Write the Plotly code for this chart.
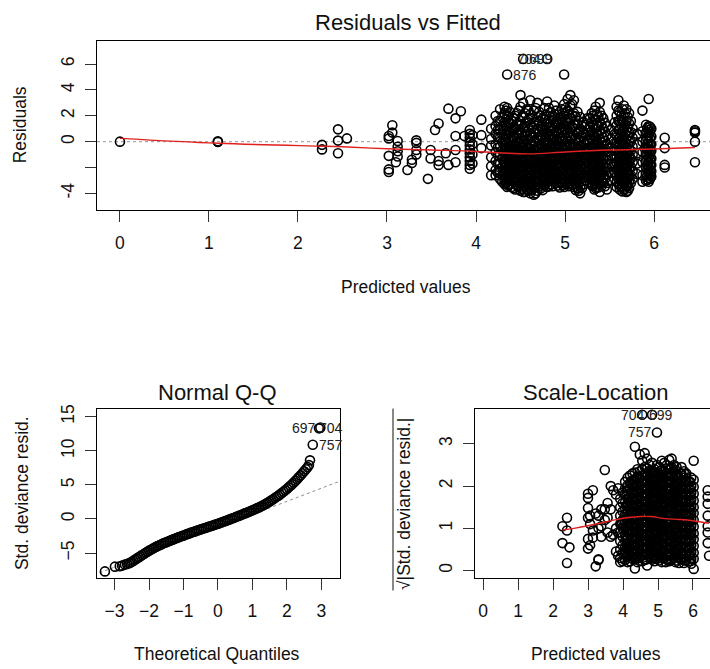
import plotly.graph_objects as go

# ---------------- data: Residuals vs Fitted ----------------
rvf_fitted_cols = [0.00, 1.10, 2.27, 2.45, 2.55, 3.02, 3.06, 3.12, 3.10, 3.23, 3.28, 3.33,
                   3.46, 3.49, 3.54, 3.58, 3.66, 3.69, 3.77, 3.83, 3.87, 3.93, 3.96, 4.06,
                   4.17, 4.22, 4.27, 4.32, 4.35, 4.38, 4.42, 4.46, 4.50, 4.53, 4.57, 4.61,
                   4.65, 4.69, 4.73, 4.77, 4.80, 4.84, 4.88, 4.92, 4.96, 4.99, 5.03, 5.06,
                   5.10, 5.14, 5.17, 5.21, 5.25, 5.30, 5.33, 5.36, 5.39, 5.43, 5.47, 5.52,
                   5.56, 5.60, 5.63, 5.66, 5.69, 5.72, 5.76, 5.81, 5.87, 5.91, 5.94, 5.97,
                   6.12, 6.46]
rvf_resid_cols = [
    [0.0],
    [0.02, -0.03],
    [-0.25, -0.6],
    [0.95, 0.08, -0.9],
    [0.25],
    [0.43, 0.25, -1.1, -2.15, -2.35],
    [1.27, 0.7],
    [0.05, -0.4, -0.75, -1.15],
    [-1.6],
    [-2.2],
    [-1.65, -1.4],
    [0.1, -0.1, -0.65, -1.0],
    [-2.88],
    [-0.65, -1.3],
    [0.9],
    [1.4, -1.5, -1.8],
    [-0.9],
    [2.55, -1.8],
    [1.8, 0.43, -0.65, -1.6],
    [2.35],
    [0.43],
    [0.9, 0.6, 0.3, 0.0, -0.3, -0.6, -0.9, -1.2, -1.5, -1.8, -2.1],
    [0.5, -0.2, -1.0, -1.7],
    [1.7, 0.5, -0.5],
    [1.0, 0.2, -0.3, -1.2, -1.9, -2.6],
    [2.0, 1.2, 0.6, -0.2, -0.8, -1.5, -2.2, -2.6],
    [2.5, 1.6, 0.9, 0.3, -0.4, -1.0, -1.7, -2.3, -2.9],
    [2.7, 2.2, 1.5, 0.8, 0.2, -0.3, -0.7, -1.1, -1.6, -2.0, -2.5, -3.0, -3.3],
    [5.19, 2.6, 1.9, 1.1, 0.5, -0.1, -0.5, -0.9, -1.3, -1.8, -2.2, -2.7, -3.1, -3.5],
    [2.3, 1.4, 0.7, 0.0, -0.6, -1.0, -1.4, -2.0, -2.4, -2.8, -3.3],
    [1.8, 1.0, 0.4, -0.3, -0.8, -1.2, -1.7, -2.1, -2.6, -3.0, -3.6],
    [2.2, 1.3, 0.6, -0.1, -0.6, -1.1, -1.5, -1.9, -2.3, -2.8, -3.4],
    [3.6, 2.7, 1.6, 0.9, 0.2, -0.4, -0.9, -1.3, -1.8, -2.2, -2.7, -3.2, -3.8],
    [6.4, 3.0, 2.0, 1.1, 0.4, -0.2, -0.7, -1.2, -1.6, -2.0, -2.5, -2.9, -3.4, -3.9],
    [2.5, 1.6, 0.8, 0.1, -0.5, -1.0, -1.4, -1.9, -2.4, -2.8, -3.3, -3.7],
    [3.2, 2.1, 1.3, 0.5, -0.2, -0.8, -1.3, -1.7, -2.1, -2.6, -3.1, -3.6, -4.0],
    [2.4, 1.5, 0.7, 0.0, -0.6, -1.1, -1.5, -2.0, -2.5, -3.0, -3.5, -4.1],
    [3.0, 1.9, 1.0, 0.3, -0.4, -0.9, -1.4, -1.8, -2.3, -2.8, -3.3, -3.8],
    [2.0, 1.2, 0.5, -0.2, -0.8, -1.3, -1.7, -2.2, -2.7, -3.2, -3.6],
    [2.6, 1.7, 0.9, 0.1, -0.5, -1.0, -1.5, -2.0, -2.4, -2.9, -3.4],
    [6.4, 3.1, 1.4, 0.6, -0.1, -0.7, -1.2, -1.6, -2.1, -2.6, -3.1, -3.5],
    [2.3, 1.5, 0.8, 0.2, -0.4, -0.9, -1.4, -1.9, -2.3, -2.8, -3.3],
    [2.8, 1.9, 1.1, 0.4, -0.3, -0.8, -1.3, -1.7, -2.2, -2.7, -3.0],
    [2.1, 1.3, 0.6, -0.1, -0.6, -1.1, -1.6, -2.0, -2.5, -2.9, -3.4],
    [2.5, 1.7, 0.9, 0.2, -0.4, -0.9, -1.4, -1.8, -2.3, -2.8, -3.2],
    [5.19, 2.9, 2.0, 1.2, 0.5, -0.2, -0.7, -1.2, -1.6, -2.1, -2.6, -3.1, -3.5],
    [3.3, 2.4, 1.5, 0.7, 0.0, -0.5, -1.0, -1.5, -1.9, -2.4, -2.9, -3.3],
    [3.6, 2.8, 1.8, 1.0, 0.3, -0.3, -0.8, -1.3, -1.8, -2.2, -2.7, -3.2],
    [3.2, 2.2, 1.3, 0.5, -0.2, -0.7, -1.2, -1.7, -2.1, -2.6, -3.0, -3.5],
    [2.3, 1.4, 0.6, -0.1, -0.6, -1.1, -1.6, -2.1, -2.6, -3.0, -3.6],
    [1.9, 1.0, 0.3, -0.4, -0.9, -1.4, -1.9, -2.4, -2.9, -3.5, -4.0],
    [1.5, 0.7, 0.0, -0.6, -1.2, -1.7, -2.2, -2.8, -3.3],
    [1.8, 0.9, 0.1, -0.5, -1.0, -1.6, -2.2, -2.7],
    [2.2, 1.5, 0.8, 0.2, -0.4, -0.9, -1.4, -1.9, -2.4, -2.9, -3.4],
    [2.4, 1.7, 1.0, 0.4, -0.2, -0.7, -1.2, -1.7, -2.2, -2.7, -3.2, -3.7],
    [2.1, 1.3, 0.6, 0.0, -0.5, -1.0, -1.5, -2.0, -2.5, -3.0, -3.5],
    [3.0, 2.3, 1.5, 0.8, 0.2, -0.4, -0.9, -1.4, -1.8, -2.3, -2.8, -3.3, -3.9],
    [1.8, 1.0, 0.3, -0.3, -0.8, -1.3, -1.8, -2.3, -2.8, -3.2],
    [1.2, 0.5, -0.2, -0.8, -1.4, -2.0, -2.6, -3.2, -3.7],
    [0.9, 0.2, -0.5, -1.1, -1.7, -2.4, -3.0],
    [1.5, 0.6, -0.1, -0.7, -1.3, -1.9, -2.5],
    [3.2, 2.4, 1.6, 0.9, 0.2, -0.4, -0.9, -1.4, -1.9, -2.4, -2.9, -3.3],
    [2.0, 1.3, 0.6, 0.0, -0.5, -1.0, -1.5, -2.0, -2.5, -3.0, -3.5],
    [2.8, 1.9, 1.1, 0.4, -0.2, -0.7, -1.2, -1.7, -2.2, -2.7, -3.2, -3.7],
    [2.5, 1.6, 0.8, 0.2, -0.4, -0.9, -1.4, -1.9, -2.4, -2.9, -3.4, -3.9],
    [2.2, 1.4, 0.7, 0.0, -0.6, -1.1, -1.6, -2.1, -2.6, -3.1, -3.6],
    [1.0, 0.3, -0.4, -1.0, -1.6, -2.3, -2.9],
    [0.6, -0.2, -0.9, -1.7, -2.5],
    [2.4, 0.8, 0.0, -0.8, -1.6, -2.6, -3.1],
    [1.3, 0.7, 0.1, -0.5, -1.0, -1.5, -2.0, -2.5, -3.0],
    [3.3, 1.2, 0.9, 0.5, 0.0, -0.4, -0.8, -1.2, -1.6, -2.0, -2.4, -2.8, -3.1],
    [1.0, 0.4, -0.2, -0.7, -1.3, -1.8, -2.3, -2.7],
    [0.3, -0.5, -1.8, -2.0],
    [0.9, 0.8, 0.7, 0.0, -1.6],
]
# second batch of observations lying between the columns above (dense cloud)
rvf_fitted_fill = [4.245, 4.295, 4.335, 4.365, 4.40, 4.44, 4.48, 4.515, 4.55, 4.59, 4.63, 4.67,
                   4.71, 4.75, 4.785, 4.82, 4.86, 4.90, 4.94, 4.975, 5.01, 5.045, 5.08, 5.12,
                   5.155, 5.19, 5.23, 5.28, 5.315, 5.345, 5.375, 5.41, 5.45, 5.58, 5.615, 5.645,
                   5.675, 5.705, 5.74, 5.925, 5.955]
rvf_resid_fill = [
    [1.6, 0.9, 0.35, -0.45, -1.05, -1.75, -2.4],
    [1.9, 1.2, 0.55, -0.05, -0.7, -1.35, -2.0, -2.6, -3.1],
    [2.4, 1.25, 0.5, -0.05, -0.5, -0.9, -1.35, -1.8, -2.25, -2.75, -3.2],
    [2.0, 1.45, 0.8, 0.25, -0.3, -0.75, -1.15, -1.6, -2.05, -2.5, -2.95, -3.4],
    [1.6, 1.05, 0.4, -0.3, -0.8, -1.2, -1.7, -2.2, -2.6, -3.05, -3.5],
    [2.0, 1.0, 0.25, -0.35, -0.85, -1.3, -1.75, -2.1, -2.55, -3.1, -3.7],
    [2.4, 1.3, 0.55, -0.15, -0.65, -1.1, -1.55, -2.0, -2.45, -2.95, -3.5],
    [1.9, 1.35, 0.65, 0.05, -0.45, -0.95, -1.45, -1.85, -2.25, -2.7, -3.15, -3.65],
    [2.2, 1.2, 0.45, -0.25, -0.75, -1.2, -1.65, -2.15, -2.6, -3.05, -3.5, -3.9],
    [2.4, 1.7, 0.9, 0.15, -0.5, -1.05, -1.5, -1.9, -2.35, -2.85, -3.35, -3.8],
    [1.8, 1.05, 0.3, -0.3, -0.85, -1.3, -1.75, -2.25, -2.75, -3.25, -3.75],
    [2.6, 1.5, 0.65, -0.05, -0.65, -1.15, -1.6, -2.05, -2.55, -3.05, -3.55, -4.0],
    [2.3, 1.55, 0.75, 0.1, -0.55, -1.05, -1.55, -1.95, -2.45, -2.95, -3.45],
    [1.8, 1.0, 0.3, -0.35, -0.9, -1.4, -1.85, -2.3, -2.8, -3.3, -3.75],
    [2.1, 1.35, 0.5, -0.2, -0.75, -1.25, -1.75, -2.25, -2.75, -3.25],
    [2.6, 1.75, 1.05, 0.4, -0.25, -0.8, -1.3, -1.75, -2.15, -2.6, -3.05, -3.45],
    [2.0, 1.2, 0.55, -0.1, -0.6, -1.1, -1.55, -2.05, -2.5, -2.95, -3.45],
    [2.4, 1.55, 0.85, 0.15, -0.4, -0.9, -1.4, -1.85, -2.35, -2.8, -3.2],
    [1.85, 1.05, 0.35, -0.3, -0.85, -1.35, -1.8, -2.25, -2.7, -3.15, -3.55],
    [2.2, 1.45, 0.7, 0.0, -0.55, -1.05, -1.5, -1.95, -2.45, -2.95, -3.35],
    [2.6, 1.7, 0.95, 0.25, -0.35, -0.85, -1.35, -1.8, -2.25, -2.75, -3.2],
    [2.1, 1.25, 0.45, -0.2, -0.75, -1.25, -1.7, -2.1, -2.55, -3.05, -3.45],
    [2.9, 2.05, 1.1, 0.3, -0.45, -0.95, -1.45, -1.95, -2.4, -2.85, -3.3],
    [1.95, 1.0, 0.25, -0.4, -0.95, -1.45, -1.85, -2.35, -2.8, -3.25, -3.75],
    [1.6, 0.75, 0.1, -0.65, -1.15, -1.65, -2.15, -2.65, -3.2, -3.8],
    [1.2, 0.45, -0.3, -0.9, -1.45, -1.95, -2.5, -3.05, -3.6],
    [1.3, 0.5, -0.2, -0.8, -1.35, -1.9, -2.45, -3.0],
    [1.8, 1.15, 0.5, -0.1, -0.65, -1.15, -1.65, -2.15, -2.65, -3.15],
    [2.0, 1.3, 0.7, 0.1, -0.45, -0.95, -1.45, -1.95, -2.45, -2.95, -3.45],
    [2.7, 1.75, 1.05, 0.35, -0.25, -0.75, -1.25, -1.75, -2.25, -2.75, -3.25, -3.6],
    [1.9, 1.15, 0.5, -0.15, -0.65, -1.15, -1.65, -2.15, -2.55, -3.05, -3.55],
    [2.0, 1.3, 0.6, -0.05, -0.55, -1.05, -1.55, -2.05, -2.55, -3.0, -3.45],
    [1.45, 0.75, 0.05, -0.55, -1.1, -1.7, -2.3, -2.9, -3.45],
    [2.7, 2.0, 1.25, 0.55, -0.1, -0.65, -1.15, -1.65, -2.15, -2.65, -3.1, -3.5],
    [2.3, 1.6, 0.95, 0.3, -0.25, -0.75, -1.25, -1.75, -2.25, -2.75, -3.25, -3.7],
    [2.5, 1.55, 0.8, 0.15, -0.45, -0.95, -1.45, -1.95, -2.45, -2.95, -3.45, -3.85],
    [2.2, 1.35, 0.55, -0.05, -0.65, -1.15, -1.65, -2.15, -2.65, -3.15, -3.65],
    [1.9, 1.1, 0.45, -0.25, -0.85, -1.35, -1.85, -2.35, -2.85, -3.35, -3.8],
    [1.6, 0.75, 0.0, -0.7, -1.3, -1.95, -2.6, -3.2],
    [1.05, 0.7, 0.25, -0.2, -0.6, -1.0, -1.4, -1.8, -2.2, -2.6, -2.95],
    [1.15, 0.75, 0.3, -0.2, -0.6, -1.0, -1.4, -1.8, -2.2, -2.55, -2.9],
]
rvf_smooth_x = [0.0, 1.1, 2.3, 2.5, 3.0, 3.5, 4.0, 4.3, 4.6, 5.0, 5.5, 6.0, 6.46]
rvf_smooth_y = [0.25, -0.13, -0.36, -0.4, -0.55, -0.65, -0.76, -0.88, -0.95, -0.8, -0.65, -0.57, -0.46]
rvf_id_x = [4.35, 4.53, 4.80]
rvf_id_y = [5.19, 6.4, 6.4]
rvf_id_text = ["876", "699", "704"]
rvf_id_side = ["right", "right", "left"]
rvf_id_shift = [4, 4, -4]

# ---------------- data: Normal Q-Q ----------------
qq_theoretical = [-3.28, -2.99, -2.85, -2.78, -2.70, -2.64, -2.58, -2.54,
                  -2.50, -2.45, -2.40, -2.35, -2.30, -2.25, -2.20, -2.15, -2.10, -2.05,
                  -2.00, -1.95, -1.90, -1.85, -1.80, -1.75, -1.70, -1.65, -1.60, -1.55,
                  -1.50, -1.45, -1.40, -1.35, -1.30, -1.25, -1.20, -1.15, -1.10, -1.05,
                  -1.00, -0.95, -0.90, -0.85, -0.80, -0.75, -0.70, -0.65, -0.60, -0.55,
                  -0.50, -0.45, -0.40, -0.35, -0.30, -0.25, -0.20, -0.15, -0.10, -0.05,
                  0.00, 0.05, 0.10, 0.15, 0.20, 0.25, 0.30, 0.35, 0.40, 0.45,
                  0.50, 0.55, 0.60, 0.65, 0.70, 0.75, 0.80, 0.85, 0.90, 0.95,
                  1.00, 1.05, 1.10, 1.15, 1.20, 1.25, 1.30, 1.35, 1.40, 1.45,
                  1.50, 1.55, 1.60, 1.65, 1.70, 1.75, 1.80, 1.85, 1.90, 1.95,
                  2.00, 2.05, 2.10, 2.15, 2.20, 2.25, 2.30, 2.35, 2.40, 2.45, 2.50,
                  2.55, 2.60, 2.64, 2.67, 2.75, 2.93, 2.97]
qq_sample = [-7.70, -7.00, -6.95, -6.85, -6.70, -6.60, -6.50, -6.40,
             -6.30, -6.12, -5.95, -5.79, -5.62, -5.46, -5.30, -5.14, -4.97, -4.81,
             -4.65, -4.51, -4.37, -4.24, -4.10, -3.98, -3.86, -3.74, -3.62, -3.51,
             -3.41, -3.30, -3.20, -3.10, -3.00, -2.90, -2.80, -2.70, -2.61, -2.51,
             -2.42, -2.33, -2.23, -2.14, -2.05, -1.96, -1.88, -1.79, -1.70, -1.62,
             -1.53, -1.45, -1.36, -1.28, -1.20, -1.11, -1.03, -0.95, -0.86, -0.78,
             -0.70, -0.61, -0.52, -0.42, -0.33, -0.24, -0.14, -0.05, 0.05, 0.15,
             0.25, 0.35, 0.45, 0.55, 0.65, 0.75, 0.85, 0.95, 1.06, 1.16,
             1.27, 1.38, 1.49, 1.61, 1.72, 1.85, 1.98, 2.12, 2.25, 2.41,
             2.57, 2.74, 2.90, 3.07, 3.25, 3.42, 3.60, 3.80, 4.00, 4.20,
             4.40, 4.64, 4.88, 5.11, 5.35, 5.61, 5.88, 6.14, 6.40, 6.70, 7.00,
             7.30, 7.60, 7.90, 8.60, 10.90, 13.30, 13.40]
qq_line_x = [-3.6, 3.6]
qq_line_y = [-8.23, 5.67]
qq_id_x = [2.93, 2.97, 2.75]
qq_id_y = [13.3, 13.4, 10.9]
qq_id_text = ["697", "704", "757"]
qq_id_side = ["left", "right", "right"]
qq_id_shift = [-1, -3, 4]

# ---------------- data: Scale-Location ----------------
sl_fitted_cols = [2.27, 2.40, 2.47, 3.00, 3.06, 3.14, 3.22, 3.30, 3.38, 3.48, 3.56, 3.65, 3.72,
                  3.80, 3.86, 3.92, 3.99, 4.06, 4.13, 4.20, 4.27, 4.34, 4.41, 4.48, 4.55, 4.62,
                  4.69, 4.76, 4.83, 4.90, 4.97, 5.04, 5.11, 5.18, 5.25, 5.32, 5.39, 5.46, 5.53,
                  5.60, 5.67, 5.74, 5.81, 5.88, 5.95, 6.02, 6.42, 6.46]
sl_value_cols = [
    [1.05, 0.65],
    [1.25, 0.95, 0.18],
    [0.55],
    [1.82, 1.72, 1.48, 1.25, 0.75, 0.52],
    [1.3, 1.1, 0.6],
    [1.9, 0.95, 0.78],
    [1.35, 0.1],
    [1.3, 1.0, 0.27, 0.25],
    [1.45, 1.05, 0.8],
    [2.38, 1.45, 1.2],
    [1.6, 1.25, 0.9],
    [2.0, 1.45, 0.8],
    [1.9, 0.85],
    [1.8, 1.0, 0.45],
    [1.95, 0.9, 0.35],
    [1.7, 1.5, 1.3, 1.1, 0.9, 0.7, 0.5, 0.3, 0.2],
    [1.85, 1.6, 1.4, 1.2, 1.0, 0.8, 0.6, 0.42, 0.22],
    [2.1, 1.95, 1.8, 1.62, 1.48, 1.32, 1.15, 1.0, 0.85, 0.7, 0.55, 0.4, 0.25],
    [2.2, 2.02, 1.88, 1.7, 1.55, 1.4, 1.24, 1.08, 0.92, 0.78, 0.62, 0.48, 0.32, 0.2],
    [2.25, 2.08, 1.92, 1.76, 1.6, 1.45, 1.3, 1.14, 0.98, 0.84, 0.68, 0.52, 0.36, 0.22],
    [2.3, 2.14, 1.98, 1.82, 1.66, 1.5, 1.36, 1.2, 1.04, 0.9, 0.74, 0.58, 0.42, 0.28],
    [2.93, 2.32, 2.16, 2.0, 1.84, 1.68, 1.52, 1.38, 1.22, 1.06, 0.92, 0.76, 0.6, 0.44, 0.3, 0.05],
    [2.4, 2.22, 2.06, 1.9, 1.74, 1.58, 1.42, 1.28, 1.12, 0.96, 0.8, 0.66, 0.5, 0.34, 0.2],
    [2.75, 2.35, 2.18, 2.02, 1.86, 1.7, 1.55, 1.4, 1.24, 1.08, 0.92, 0.78, 0.62, 0.46, 0.3],
    [3.69, 2.6, 2.4, 2.24, 2.08, 1.92, 1.76, 1.6, 1.45, 1.3, 1.14, 0.98, 0.82, 0.68, 0.52, 0.36, 0.22],
    [2.78, 2.45, 2.28, 2.12, 1.96, 1.8, 1.64, 1.5, 1.34, 1.18, 1.02, 0.86, 0.72, 0.56, 0.4, 0.26],
    [2.65, 2.42, 2.26, 2.1, 1.94, 1.78, 1.62, 1.46, 1.3, 1.16, 1.0, 0.84, 0.68, 0.54, 0.38, 0.12],
    [2.5, 2.36, 2.2, 2.04, 1.88, 1.72, 1.56, 1.42, 1.26, 1.1, 0.94, 0.8, 0.64, 0.48, 0.32],
    [3.69, 2.55, 2.3, 2.14, 1.98, 1.82, 1.66, 1.5, 1.36, 1.2, 1.04, 0.88, 0.74, 0.58, 0.42, 0.26],
    [2.4, 2.24, 2.08, 1.92, 1.76, 1.62, 1.46, 1.3, 1.14, 0.98, 0.84, 0.68, 0.52, 0.36, 0.22],
    [3.27, 2.5, 2.32, 2.16, 2.0, 1.84, 1.68, 1.54, 1.38, 1.22, 1.06, 0.9, 0.76, 0.6, 0.44, 0.28],
    [2.45, 2.28, 2.12, 1.96, 1.8, 1.64, 1.48, 1.34, 1.18, 1.02, 0.86, 0.72, 0.56, 0.4, 0.24],
    [2.6, 2.38, 2.22, 2.06, 1.9, 1.74, 1.58, 1.44, 1.28, 1.12, 0.96, 0.8, 0.66, 0.5, 0.34, 0.2],
    [2.55, 2.34, 2.18, 2.02, 1.86, 1.7, 1.56, 1.4, 1.24, 1.08, 0.92, 0.78, 0.62, 0.46, 0.3],
    [2.5, 2.3, 2.14, 1.98, 1.82, 1.68, 1.52, 1.36, 1.2, 1.04, 0.9, 0.74, 0.58, 0.42, 0.26],
    [2.62, 2.4, 2.24, 2.08, 1.92, 1.76, 1.6, 1.46, 1.3, 1.14, 0.98, 0.84, 0.68, 0.52, 0.36, 0.22],
    [2.65, 2.44, 2.28, 2.12, 1.96, 1.8, 1.64, 1.5, 1.34, 1.18, 1.02, 0.86, 0.72, 0.56, 0.4, 0.26],
    [2.5, 2.34, 2.18, 2.02, 1.86, 1.7, 1.56, 1.4, 1.24, 1.08, 0.92, 0.78, 0.62, 0.46, 0.3],
    [2.45, 2.28, 2.12, 1.96, 1.8, 1.66, 1.5, 1.34, 1.18, 1.02, 0.88, 0.72, 0.56, 0.4, 0.24],
    [2.2, 2.04, 1.88, 1.72, 1.56, 1.42, 1.26, 1.1, 0.94, 0.8, 0.64, 0.48, 0.32, 0.18],
    [2.45, 2.3, 2.14, 1.98, 1.82, 1.66, 1.52, 1.36, 1.2, 1.04, 0.9, 0.74, 0.58, 0.42, 0.26],
    [2.35, 2.2, 2.04, 1.88, 1.72, 1.58, 1.42, 1.26, 1.1, 0.96, 0.8, 0.64, 0.48, 0.32, 0.18],
    [2.3, 2.12, 1.96, 1.8, 1.64, 1.5, 1.34, 1.18, 1.02, 0.88, 0.72, 0.56, 0.4, 0.24],
    [2.1, 1.94, 1.78, 1.62, 1.48, 1.32, 1.16, 1.0, 0.86, 0.7, 0.54, 0.38, 0.22],
    [2.2, 2.0, 1.84, 1.68, 1.52, 1.36, 1.22, 1.06, 0.9, 0.76, 0.6, 0.44, 0.28, 0.16],
    [2.6, 2.15, 1.98, 1.82, 1.66, 1.5, 1.36, 1.2, 1.04, 0.88, 0.74, 0.58, 0.42, 0.28, 0.04],
    [1.9, 1.75, 1.58, 1.3, 1.05, 0.9, 0.65],
    [0.35],
    [1.15, 1.12, 1.08],
]
# second batch of observations lying between the columns above (dense cloud)
sl_fitted_fill = [3.955, 4.10, 4.24, 4.38, 4.52, 4.66, 4.80, 4.94, 5.08, 5.22, 5.36, 5.50,
                  5.64, 5.78, 5.92]
sl_value_fill = [
    [1.78, 1.52, 1.33, 1.12, 0.92, 0.72, 0.52, 0.34],
    [2.04, 1.86, 1.7, 1.55, 1.38, 1.22, 1.07, 0.9, 0.76, 0.6, 0.45, 0.3],
    [2.18, 2.0, 1.85, 1.68, 1.53, 1.37, 1.21, 1.05, 0.9, 0.74, 0.58, 0.44, 0.28],
    [2.24, 2.09, 1.91, 1.76, 1.6, 1.43, 1.29, 1.13, 0.97, 0.81, 0.66, 0.5, 0.35],
    [2.3, 2.13, 1.97, 1.82, 1.65, 1.5, 1.35, 1.18, 1.03, 0.86, 0.71, 0.55, 0.39, 0.26],
    [2.35, 2.18, 2.03, 1.86, 1.71, 1.55, 1.39, 1.23, 1.08, 0.92, 0.76, 0.6, 0.45, 0.3],
    [2.32, 2.16, 2.0, 1.84, 1.69, 1.53, 1.37, 1.21, 1.05, 0.9, 0.74, 0.58, 0.42, 0.28],
    [2.36, 2.19, 2.04, 1.88, 1.72, 1.56, 1.41, 1.25, 1.1, 0.94, 0.78, 0.62, 0.47, 0.32],
    [2.4, 2.24, 2.08, 1.92, 1.76, 1.61, 1.45, 1.29, 1.13, 0.98, 0.82, 0.66, 0.5, 0.35, 0.2],
    [2.42, 2.26, 2.1, 1.94, 1.78, 1.63, 1.47, 1.31, 1.16, 1.0, 0.84, 0.69, 0.53, 0.38, 0.24],
    [2.38, 2.22, 2.06, 1.9, 1.74, 1.59, 1.43, 1.28, 1.12, 0.96, 0.81, 0.65, 0.49, 0.34, 0.2],
    [2.3, 2.14, 1.98, 1.83, 1.67, 1.51, 1.35, 1.2, 1.04, 0.88, 0.73, 0.57, 0.41, 0.27],
    [2.28, 2.12, 1.96, 1.8, 1.64, 1.48, 1.33, 1.17, 1.01, 0.86, 0.7, 0.55, 0.39, 0.24],
    [2.1, 1.93, 1.78, 1.62, 1.46, 1.31, 1.15, 0.99, 0.84, 0.68, 0.52, 0.37, 0.22],
    [2.05, 1.9, 1.74, 1.58, 1.42, 1.27, 1.11, 0.95, 0.8, 0.64, 0.49, 0.33, 0.2],
]
sl_smooth_x = [2.27, 2.6, 3.0, 3.5, 4.0, 4.5, 4.8, 5.2, 5.6, 6.0, 6.46]
sl_smooth_y = [0.96, 1.0, 1.06, 1.15, 1.24, 1.28, 1.28, 1.23, 1.21, 1.18, 1.12]
sl_id_x = [4.80, 4.57, 5.00]
sl_id_y = [3.69, 3.69, 3.27]
sl_id_text = ["704", "699", "757"]
sl_id_side = ["left", "right", "left"]
sl_id_shift = [-4, 4, -4]


def flatten(xcols, ycols):
    xs, ys = [], []
    for xv, yl in zip(xcols, ycols):
        for yv in yl:
            xs.append(xv)
            ys.append(yv)
    return xs, ys


W, H = 710, 669
FONT = "Liberation Sans, Arial, Helvetica, sans-serif"
INK = "#111111"


def px(x):
    return x / W


def py(y):
    return 1 - y / H


marker = dict(symbol="circle-open", size=9, color="black", line=dict(width=1.6, color="black"))

fig = go.Figure()

rx, ry = flatten(rvf_fitted_cols + rvf_fitted_fill, rvf_resid_cols + rvf_resid_fill)
fig.add_trace(go.Scatter(x=rx, y=ry, mode="markers", marker=marker, xaxis="x", yaxis="y", hoverinfo="skip"))
fig.add_trace(go.Scatter(x=rvf_smooth_x, y=rvf_smooth_y, mode="lines",
                         line=dict(color="#e0201e", width=1.4, shape="spline"), xaxis="x", yaxis="y"))

fig.add_trace(go.Scatter(x=qq_line_x, y=qq_line_y, mode="lines", line=dict(color="#8c8c8c", width=1, dash="dot"),
                         xaxis="x2", yaxis="y2"))
fig.add_trace(go.Scatter(x=qq_theoretical, y=qq_sample, mode="markers", marker=marker, xaxis="x2", yaxis="y2",
                         hoverinfo="skip"))

sx, sy = flatten(sl_fitted_cols + sl_fitted_fill, sl_value_cols + sl_value_fill)
fig.add_trace(go.Scatter(x=sx, y=sy, mode="markers", marker=marker, xaxis="x3", yaxis="y3", hoverinfo="skip"))
fig.add_trace(go.Scatter(x=sl_smooth_x, y=sl_smooth_y, mode="lines",
                         line=dict(color="#e0201e", width=1.4, shape="spline"), xaxis="x3", yaxis="y3"))

axis_common = dict(showgrid=False, zeroline=False, showline=True, linecolor="black", linewidth=1,
                   ticks="outside", ticklen=11, tickwidth=1, tickcolor="#333333",
                   tickfont=dict(family=FONT, size=17.5, color=INK))

fig.update_layout(
    width=W, height=H, margin=dict(l=0, r=0, t=0, b=0),
    paper_bgcolor="white", plot_bgcolor="white", showlegend=False,
    xaxis=dict(axis_common, domain=[px(97), 1], range=[-0.258, 6.629], anchor="y", mirror=True,
               tickvals=[0, 1, 2, 3, 4, 5, 6], ticklabelstandoff=6),
    yaxis=dict(axis_common, domain=[py(207), py(37)], range=[-5.27, 7.8], anchor="x", tickangle=-90,
               tickvals=[-4, -2, 0, 2, 4, 6], ticktext=["-4", "", "0", "2", "4", "6"], ticklabelstandoff=4),
    xaxis2=dict(axis_common, domain=[px(97), px(340)], range=[-3.51, 3.54], anchor="y2", mirror=True,
                tickvals=[-3, -2, -1, 0, 1, 2, 3], ticklabelstandoff=6),
    yaxis2=dict(axis_common, domain=[py(577), py(407)], range=[-8.6, 16.2], anchor="x2", mirror=True,
                tickangle=-90, tickvals=[-5, 0, 5, 10, 15], ticklabelstandoff=4),
    xaxis3=dict(axis_common, domain=[px(475), 1], range=[-0.229, 6.486], anchor="y3", mirror=True,
                tickvals=[0, 1, 2, 3, 4, 5, 6], ticklabelstandoff=6),
    yaxis3=dict(axis_common, domain=[py(577), py(407)], range=[-0.165, 3.835], anchor="x3", tickangle=-90,
                tickvals=[0, 1, 2, 3], ticklabelstandoff=4),
)

# dotted zero line in Residuals vs Fitted
fig.add_shape(type="line", xref="x domain", yref="y", x0=0, x1=1, y0=0, y1=0,
              line=dict(color="#aaaaaa", width=1.2, dash="dot"), layer="below")

ann = []


def text(x, y, s, size, angle=0):
    ann.append(dict(x=px(x), y=py(y), xref="paper", yref="paper", text=s, showarrow=False,
                    xanchor="center", yanchor="middle", textangle=angle,
                    font=dict(family=FONT, size=size, color=INK)))


text(408, 19, "Residuals vs Fitted", 22)
text(218, 391, "Normal Q-Q", 22)
text(596, 391, "Scale-Location", 22)
text(406, 285, "Predicted values", 17.5)
text(217, 654, "Theoretical Quantiles", 17.5)
text(596, 654, "Predicted values", 17.5)
text(20, 122, "Residuals", 17.5, -90)
text(22, 492, "Std. deviance resid.", 17.5, -90)
text(404, 503, "√|Std. deviance resid.|", 17.5, -90)


def ids(xs, ys, labels, sides, shifts, xa, ya):
    for xv, yv, lab, side, sh in zip(xs, ys, labels, sides, shifts):
        ann.append(dict(x=xv, y=yv, xref=xa, yref=ya, text=lab, showarrow=False,
                        xanchor="left" if side == "right" else "right", yanchor="middle",
                        xshift=sh, font=dict(family=FONT, size=14, color="#222222")))


ids(rvf_id_x, rvf_id_y, rvf_id_text, rvf_id_side, rvf_id_shift, "x", "y")
ids(qq_id_x, qq_id_y, qq_id_text, qq_id_side, qq_id_shift, "x2", "y2")
ids(sl_id_x, sl_id_y, sl_id_text, sl_id_side, sl_id_shift, "x3", "y3")

fig.update_layout(annotations=ann)

# overbar of the square-root sign in the scale-location y label
fig.add_shape(type="line", xref="paper", yref="paper", x0=px(393), x1=px(393), y0=py(590), y1=py(407),
              line=dict(color=INK, width=1))

fig.write_html("out.html", config={"displayModeBar": False},
               post_script="document.body.style.margin='0';document.body.style.overflow='hidden';")
